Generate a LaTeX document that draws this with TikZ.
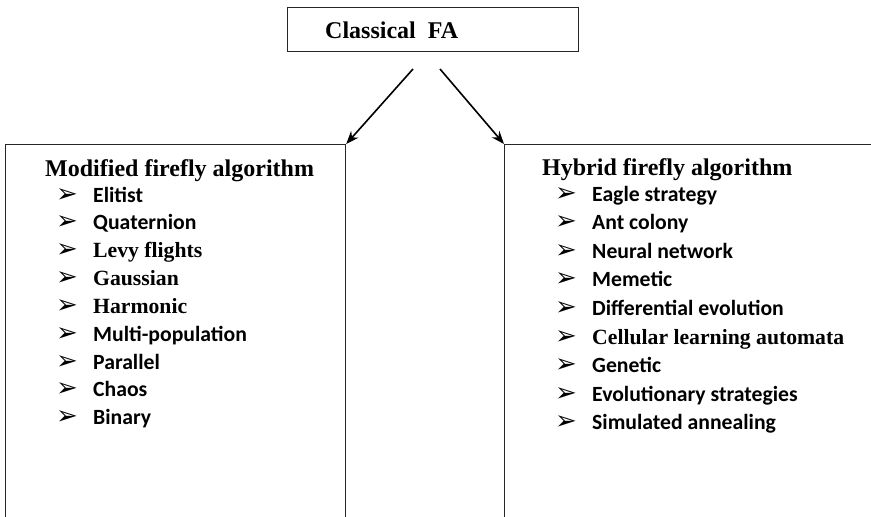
\documentclass[tikz,border=0pt]{standalone}
\usepackage{fontspec}
\setmainfont{Liberation Serif}
\newfontfamily\calibfont{Carlito}
\newfontfamily\symbfont{DejaVu Sans}
\usetikzlibrary{arrows.meta}
\tikzset{
  boxframe/.style={draw=black!85, line width=1.2pt, inner sep=0pt},
  conn/.style={draw=black, line width=1.6pt, -{Stealth[length=13pt,width=10pt]}},
  headtxt/.style={anchor=base west, inner sep=0pt, font=\fontsize{24}{28}\selectfont\bfseries},
  sanitem/.style={anchor=base west, inner sep=0pt, font=\fontsize{21.7}{26}\selectfont\calibfont\bfseries},
  serifitem/.style={anchor=base west, inner sep=0pt, font=\fontsize{21.7}{26}\selectfont\bfseries},
  bul/.style={anchor=base west, inner sep=0pt, font=\fontsize{26}{30}\selectfont\symbfont},
}
\begin{document}
\begin{tikzpicture}[x=1pt,y=-1pt]
\useasboundingbox (0,0) rectangle (871,517);
\clip (0,0) rectangle (871,517);
% top box
\node[boxframe, minimum width=291pt, minimum height=44pt, anchor=north west] (top) at (287,7) {};
\node[headtxt] (toptxt) at (325,38) {Classical\ \ FA};
% left box
\node[boxframe, minimum width=340pt, minimum height=420pt, anchor=north west] (mod) at (5,144) {};
\node[headtxt] (modtitle) at (45,176) {Modified firefly algorithm};
% right box
\node[boxframe, minimum width=420pt, minimum height=420pt, anchor=north west] (hyb) at (504,144) {};
\node[headtxt] (hybtitle) at (542,175) {Hybrid firefly algorithm};
% arrows
\coordinate (s1) at (413,69);
\coordinate (s2) at (440,69);
\draw[conn] (s1) -- (mod.north east);
\draw[conn] (s2) -- (hyb.north west);
% left items
\foreach \t/\f [count=\i from 0] in {Elitist/sanitem, Quaternion/sanitem, Levy flights/serifitem, Gaussian/serifitem, Harmonic/serifitem, Multi-population/sanitem, Parallel/sanitem, Chaos/sanitem, Binary/sanitem}{
  \node[bul] (lb\i) at (56,{202+27.85*\i}) {➢};
  \node[\f] (li\i) at (93,{202+27.85*\i}) {\t};
}
% right items
\foreach \t/\f [count=\i from 0] in {Eagle strategy/sanitem, Ant colony/sanitem, Neural network/sanitem, Memetic/sanitem, Differential evolution/sanitem, Cellular learning automata/serifitem, Genetic/sanitem, Evolutionary strategies/sanitem, Simulated annealing/sanitem}{
  \node[bul] (rb\i) at (555,{201+28.6*\i}) {➢};
  \node[\f] (ri\i) at (592,{201+28.6*\i}) {\t};
}
\end{tikzpicture}
\end{document}
